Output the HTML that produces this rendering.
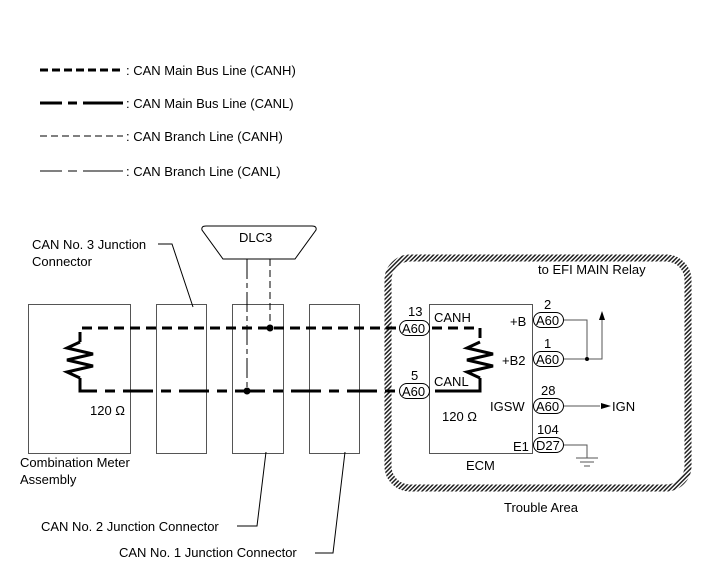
<!DOCTYPE html>
<html><head><meta charset="utf-8"><style>
html,body{margin:0;padding:0;background:#fff}
svg text{font-family:"Liberation Sans",sans-serif;font-size:13px;fill:#000}
</style></head><body>
<svg width="713" height="581" viewBox="0 0 713 581" xmlns="http://www.w3.org/2000/svg">
<defs>
<pattern id="h" patternUnits="userSpaceOnUse" width="3" height="3" patternTransform="rotate(45)">
<rect width="3" height="3" fill="#fff"/><rect width="1.5" height="3" fill="#222"/>
</pattern>
</defs>
<!-- legend -->
<g stroke="#000" fill="none">
<line x1="40" y1="70" x2="123" y2="70" stroke-width="3" stroke-dasharray="8,4"/>
<path d="M40 103h22M68 103h9M83 103h40" stroke-width="3"/>
<line x1="40" y1="136" x2="123" y2="136" stroke-width="1" stroke-dasharray="7,4"/>
<path d="M40 171h22M68 171h9M83 171h40" stroke-width="1"/>
</g>
<text x="126" y="75">: CAN Main Bus Line (CANH)</text>
<text x="126" y="108">: CAN Main Bus Line (CANL)</text>
<text x="126" y="141">: CAN Branch Line (CANH)</text>
<text x="126" y="176">: CAN Branch Line (CANL)</text>

<!-- trouble area -->
<rect x="388" y="258" width="300" height="230" rx="22" fill="none" stroke="url(#h)" stroke-width="7"/>
<text x="538" y="274">to EFI MAIN Relay</text>
<text x="504" y="512">Trouble Area</text>

<!-- boxes -->
<g stroke="#555" fill="none" stroke-width="1">
<rect x="28.5" y="304.5" width="102" height="149"/>
<rect x="156.5" y="304.5" width="50" height="149"/>
<rect x="232.5" y="304.5" width="51" height="149"/>
<rect x="309.5" y="304.5" width="50" height="149"/>
<rect x="429.5" y="304.5" width="103" height="149"/>
<path d="M210 226h102q5 0 4 4l-21 29h-72l-21-29q-1-4 4-4z" stroke="#000"/>
</g>
<text x="239" y="242">DLC3</text>

<!-- DLC branches -->
<line x1="247" y1="259" x2="247" y2="391" stroke="#000" stroke-width="1" stroke-dasharray="20,4,5,4"/>
<line x1="270" y1="259" x2="270" y2="328" stroke="#000" stroke-width="1" stroke-dasharray="7,4"/>

<!-- main bus -->
<path d="M80 342V328H400" stroke="#000" stroke-width="3" fill="none" stroke-dasharray="10,6"/>
<path d="M80 378V391H400" stroke="#000" stroke-width="3" fill="none" stroke-dasharray="30,8,10,8"/>
<path d="M80 342L67 348L93 354L67 360L93 366L67 372L80 378" stroke="#000" stroke-width="3" fill="none"/>
<circle cx="270" cy="328" r="3.5"/><circle cx="247" cy="391" r="3.5"/>
<text x="90" y="415">120 Ω</text>

<!-- ECM internal -->
<path d="M432 328H480V342" stroke="#000" stroke-width="3" fill="none" stroke-dasharray="10,6"/>
<path d="M435 391H480V378" stroke="#000" stroke-width="3" fill="none"/>
<path d="M480 342L467 348L493 354L467 360L493 366L467 372L480 378" stroke="#000" stroke-width="3" fill="none"/>
<text x="434" y="322">CANH</text>
<text x="434" y="386">CANL</text>
<text x="442" y="421">120 Ω</text>
<text x="466" y="470">ECM</text>
<text x="510" y="326">+B</text>
<text x="502" y="365">+B2</text>
<text x="490" y="411">IGSW</text>
<text x="513" y="451">E1</text>

<!-- pills -->
<g stroke="#000" fill="#fff" stroke-width="1">
<rect x="399.5" y="320.5" width="30" height="15" rx="7.5"/>
<rect x="399.5" y="383.5" width="30" height="15" rx="7.5"/>
<rect x="533.5" y="312.5" width="30" height="15" rx="7.5"/>
<rect x="533.5" y="351.5" width="30" height="15" rx="7.5"/>
<rect x="533.5" y="398.5" width="30" height="15" rx="7.5"/>
<rect x="533.5" y="437.5" width="30" height="15" rx="7.5"/>
</g>
<text x="402" y="333">A60</text>
<text x="402" y="396">A60</text>
<text x="536" y="325">A60</text>
<text x="536" y="364">A60</text>
<text x="536" y="411">A60</text>
<text x="536" y="450">D27</text>
<text x="408" y="316">13</text>
<text x="411" y="380">5</text>
<text x="544" y="309">2</text>
<text x="544" y="348">1</text>
<text x="541" y="395">28</text>
<text x="537" y="434">104</text>

<!-- right wiring -->
<g stroke="#555" fill="none" stroke-width="1">
<path d="M564 320H587V359M564 359H602V318"/>
<path d="M564 406H600"/>
<path d="M564 445H587V458M576 458h22M580 462h14M584 466h6"/>
</g>
<path d="M602 311l-3 9h6z" fill="#000"/>
<path d="M611 406l-10-3v6z" fill="#000"/>
<circle cx="587" cy="359" r="2"/>
<text x="612" y="411">IGN</text>

<!-- labels & leaders -->
<text x="32" y="249">CAN No. 3 Junction</text>
<text x="32" y="266">Connector</text>
<path d="M158 244H172L193 307" stroke="#000" fill="none"/>
<text x="20" y="467">Combination Meter</text>
<text x="20" y="484">Assembly</text>
<text x="41" y="531">CAN No. 2 Junction Connector</text>
<path d="M237 526H257L266 452" stroke="#000" fill="none"/>
<text x="119" y="557">CAN No. 1 Junction Connector</text>
<path d="M315 553H333L345 452" stroke="#000" fill="none"/>
</svg>
</body></html>
